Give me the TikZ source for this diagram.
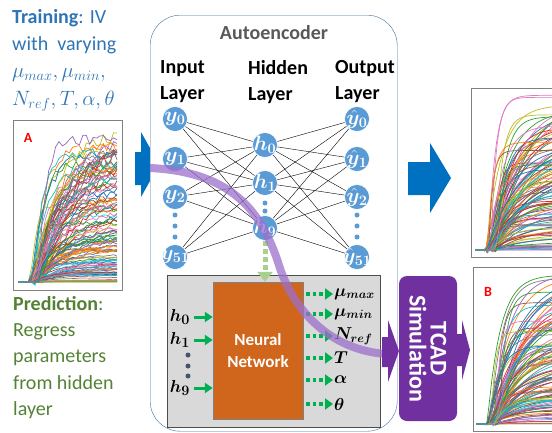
\documentclass[tikz,border=0pt]{standalone}
\usepackage{amsmath, bm}
\usepackage{fontspec}
\setmainfont{Carlito}
\usetikzlibrary{arrows.meta, positioning, calc}
\definecolor{trainblue}{HTML}{2E75B6}
\definecolor{predgreen}{HTML}{548235}
\definecolor{nodeblue}{HTML}{5B9BD5}
\definecolor{boxblue}{HTML}{41719C}
\definecolor{arrowblue}{HTML}{0070C0}
\definecolor{nnorange}{HTML}{D0651C}
\definecolor{tcadpurple}{HTML}{7030A0}
\definecolor{curvepurple}{HTML}{9C6FCC}
\definecolor{hgreen}{HTML}{00B050}
\definecolor{lightgreen}{HTML}{A9D18E}
\definecolor{panelgray}{HTML}{D9D9D9}
\definecolor{dotgray}{HTML}{44546A}
\definecolor{c0}{HTML}{1F77B4}
\definecolor{c1}{HTML}{FF7F0E}
\definecolor{c2}{HTML}{2CA02C}
\definecolor{c3}{HTML}{D62728}
\definecolor{c4}{HTML}{9467BD}
\definecolor{c5}{HTML}{8C564B}
\definecolor{c6}{HTML}{E377C2}
\definecolor{c7}{HTML}{7F7F7F}
\definecolor{c8}{HTML}{BCBD22}
\definecolor{c9}{HTML}{17BECF}

\tikzset{
  sidetext/.style={anchor=north west, align=left, inner sep=0pt,
    font=\fontsize{20}{27.3}\selectfont},
  layerlabel/.style={anchor=north west, align=left, inner sep=0pt,
    font=\fontsize{20}{26}\selectfont\bfseries},
  neuron/.style={circle, fill=nodeblue, draw=white, line width=0.6pt,
    minimum size=25pt, inner sep=-5pt, text=white,
    font=\fontsize{21}{21}\selectfont},
  hdot/.style={circle, fill=nodeblue, minimum size=5pt, inner sep=0pt},
  link/.style={black, line width=0.4pt},
  plotframe/.style={draw=black!50, line width=0.7pt},
  plotlabel/.style={text=red, font=\fontsize{14}{14}\selectfont\bfseries},
  inarrow/.style={hgreen, line width=3pt, -{Triangle[length=8pt, width=10pt]}},
  outarrow/.style={hgreen, line width=3.5pt, dash pattern=on 3.5pt off 3pt,
    -{Triangle[length=8pt, width=11pt]}},
  paramlabel/.style={anchor=west, inner sep=0pt, font=\fontsize{18}{18}\selectfont},
}

\begin{document}
\begin{tikzpicture}[x=1pt, y=-1pt]
\useasboundingbox (0,0) rectangle (552,432);
\clip (0,0) rectangle (552,432);
\pgfmathsetseed{11}

\node[sidetext, text=trainblue] (train) at (12,9)
  {\textbf{Training}: IV\\with~ varying\\$\mu_{max}, \mu_{min},$\\$N_{ref}, T, \alpha, \theta$};
\node[sidetext, text=predgreen, font=\fontsize{20}{26.3}\selectfont] (pred) at (13,296)
  {\textbf{Prediction}:\\Regress\\parameters\\from hidden\\layer};

% measured IV curves
\draw[plotframe, fill=white] (13,120) rectangle (122,290);
\begin{scope}
  \clip (14,121) rectangle (121,289);
  \foreach \i in {1,...,120}{
    \pgfmathsetmacro\amp{152*rnd^1.4}
    \pgfmathsetmacro\xo{30+12*rnd}
    \pgfmathsetmacro\tc{4+36*rnd}
    \pgfmathtruncatemacro\ci{mod(\i,10)}
    \draw[c\ci, line width=0.7pt] plot[domain=18:117, samples=30]
      (\x, {282-\amp*(1-exp(-max(\x-\xo,0)/\tc))+0.04*\amp*rand*(\x>\xo)});
  }
\end{scope}
\node[plotlabel] (labA) at (28,138) {A};

\fill[arrowblue] (135,152) -- (141,152) -- (141,132) -- (150,148) -- (150,181)
  -- (141,197) -- (141,185) -- (135,185) -- cycle;

% autoencoder
\node[draw=boxblue, fill=white, rounded corners=30pt, minimum width=247pt,
  minimum height=416pt, anchor=north west, inner sep=0pt] (ae) at (150,15) {};
\node[text=black!65, font=\fontsize{20}{20}\selectfont\bfseries] (aetitle) at (274,33) {Autoencoder};
\node[layerlabel] (inlab) at (160,60) {Input\\Layer};
\node[layerlabel] (hidlab) at (248,60) {Hidden\\Layer};
\node[layerlabel] (outlab) at (335,60) {Output\\Layer};

\node[neuron] (y0) at (175,119) {$\bm{y_0}$};
\node[neuron] (y1) at (175,159) {$\bm{y_1}$};
\node[neuron] (y2) at (175,197) {$\bm{y_2}$};
\node[neuron] (y51) at (175,257) {$\bm{y_{51}}$};
\node[neuron] (h0) at (265,145) {$\bm{h_0}$};
\node[neuron] (h1) at (265,183) {$\bm{h_1}$};
\node[neuron] (h9) at (265,228) {$\bm{h_9}$};
\node[neuron] (yh0) at (357,119) {$\bm{\hat{y}_0}$};
\node[neuron] (yh1) at (357,159) {$\bm{\hat{y}_1}$};
\node[neuron] (yh2) at (357,197) {$\bm{\hat{y}_2}$};
\node[neuron] (yh51) at (357,257) {$\bm{\hat{y}_{51}}$};
\foreach \d in {215,226,237}{
  \node[hdot] (din\d) at (175,\d) {};
  \node[hdot] (dout\d) at (357,\d) {};
}
\node[hdot] (dh1) at (265,203) {};
\node[hdot] (dh2) at (265,211) {};
\foreach \a in {y0,y1,y2,y51}
  \foreach \b in {h0,h1,h9}
    \draw[link] (\a) -- (\b);
\foreach \a in {h0,h1,h9}
  \foreach \b in {yh0,yh1,yh2,yh51}
    \draw[link] (\a) -- (\b);

% regression network
\node[draw=black!70, fill=panelgray, minimum width=213pt, minimum height=152pt,
  inner sep=0pt] (panel) at (273.5,351) {};
\node[fill=nnorange, draw=black!50, minimum width=90pt, minimum height=137pt,
  text=white, align=center, font=\fontsize{17}{22}\selectfont\bfseries] (nn) at (258,350.5)
  {Neural\\Network};
\draw[lightgreen, line width=5pt, dash pattern=on 5pt off 3pt,
  -{Triangle[length=10pt, width=15pt]}] (h9) -- (h9 |- nn.north);

\node[font=\fontsize{19}{19}\selectfont] (hin0) at (180,317) {$\bm{h_0}$};
\node[font=\fontsize{19}{19}\selectfont] (hin1) at (180,340) {$\bm{h_1}$};
\node[font=\fontsize{19}{19}\selectfont] (hin9) at (180,388) {$\bm{h_9}$};
\foreach \d in {355,366,376}
  \node[circle, fill=dotgray, minimum size=5pt, inner sep=0pt] (dn\d) at (188,\d) {};
\foreach \h in {hin0,hin1,hin9}
  \draw[inarrow] (\h.east) -- (\h.east -| nn.west);

\node[paramlabel] (pmax) at (334,294) {$\bm{\mu_{max}}$};
\node[paramlabel] (pmin) at (334,314) {$\bm{\mu_{min}}$};
\node[paramlabel] (pnref) at (334,336) {$\bm{N_{ref}}$};
\node[paramlabel] (pt) at (334,358) {$\bm{T}$};
\node[paramlabel] (palpha) at (334,380) {$\bm{\alpha}$};
\node[paramlabel] (ptheta) at (334,404) {$\bm{\theta}$};
\foreach \p in {pmax,pmin,pnref,pt,palpha,ptheta}
  \draw[outarrow] ($(nn.east |- \p.west)+(3,0)$) -- ($(\p.west)+(-1,0)$);

% path to simulation
\draw[curvepurple, opacity=0.75, line width=8pt]
  (150,168) .. controls (235,172) and (262,215) .. (278,262)
  .. controls (292,310) and (330,350) .. (386,354);
\fill[tcadpurple] (382,337) -- (388,337) -- (388,320) -- (399,351) -- (388,382)
  -- (388,367) -- (382,367) -- cycle;
\node[fill=tcadpurple, rounded corners=8pt, rotate=-90, minimum width=145pt,
  minimum height=58pt, inner sep=0pt, text=white, align=center,
  font=\fontsize{24}{21}\selectfont\bfseries] (tcad) at (428,348.5) {TCAD\\Simulation};
\fill[tcadpurple] (457,334) -- (462,334) -- (462,320) -- (470,350) -- (462,380)
  -- (462,366) -- (457,366) -- cycle;

\fill[arrowblue] (408,162) -- (430,162) -- (430,143) -- (451,178) -- (430,213)
  -- (430,195) -- (408,195) -- cycle;

% reconstructed and simulated curves
\draw[plotframe, fill=white] (471,88) rectangle (560,257);
\begin{scope}
  \clip (472,89) rectangle (560,256);
  \foreach \i in {1,...,120}{
    \pgfmathsetmacro\amp{157*rnd^1.3}
    \pgfmathsetmacro\xo{485+12*rnd}
    \pgfmathsetmacro\tc{4+40*rnd}
    \pgfmathtruncatemacro\ci{mod(\i,10)}
    \draw[c\ci, line width=0.7pt] plot[domain=475:552, samples=30, smooth]
      (\x, {250-\amp*(1-exp(-max(\x-\xo,0)/\tc))});
  }
\end{scope}

\draw[plotframe, fill=white] (473,267) rectangle (560,431);
\begin{scope}
  \clip (474,268) rectangle (560,430);
  \foreach \i in {1,...,120}{
    \pgfmathsetmacro\amp{152*rnd^1.3}
    \pgfmathsetmacro\xo{487+12*rnd}
    \pgfmathsetmacro\tc{4+40*rnd}
    \pgfmathtruncatemacro\ci{mod(\i,10)}
    \draw[c\ci, line width=0.7pt] plot[domain=476:552, samples=30, smooth]
      (\x, {424-\amp*(1-exp(-max(\x-\xo,0)/\tc))});
  }
\end{scope}
\node[plotlabel] (labB) at (488,292) {B};
\end{tikzpicture}
\end{document}
